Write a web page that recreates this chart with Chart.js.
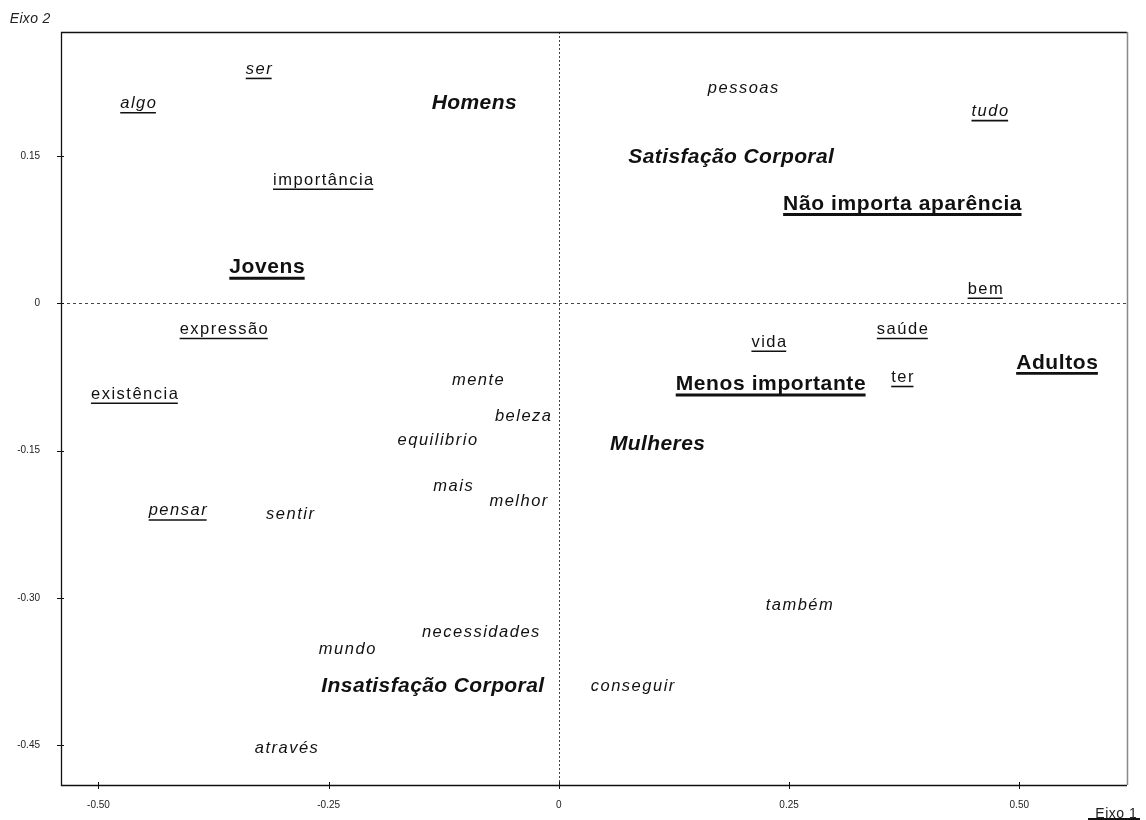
<!DOCTYPE html>
<html>
<head>
<meta charset="utf-8">
<script src="https://cdn.jsdelivr.net/npm/chart.js@4/dist/chart.umd.min.js"></script>
<style>
html,body{margin:0;padding:0;background:#fff;}
#wrap{position:relative;width:1146px;height:820px;}
</style>
</head>
<body>
<div id="wrap"><canvas id="c" width="1146" height="820"></canvas></div>
<script>
// ---- data ----
const words = ["algo","ser","Homens","pessoas","tudo","Satisfação Corporal","importância","Não importa aparência","Jovens","bem","expressão","saúde","vida","Adultos","Menos importante","ter","existência","mente","beleza","equilibrio","Mulheres","mais","melhor","pensar","sentir","também","necessidades","mundo","Insatisfação Corporal","conseguir","através"];
const axis1 = [-0.457,-0.326,-0.092,0.200,0.468,0.187,-0.256,0.373,-0.317,0.463,-0.364,0.373,0.228,0.541,0.230,0.373,-0.461,-0.088,-0.039,-0.132,0.107,-0.115,-0.044,-0.414,-0.292,0.261,-0.085,-0.230,-0.137,0.080,-0.296];
const axis2 = [0.204,0.239,0.205,0.220,0.196,0.150,0.126,0.102,0.037,0.015,-0.026,-0.026,-0.039,-0.060,-0.082,-0.075,-0.092,-0.078,-0.115,-0.139,-0.143,-0.186,-0.201,-0.211,-0.215,-0.307,-0.335,-0.352,-0.390,-0.390,-0.453];
const xTicks = [-0.50,-0.25,0,0.25,0.50];
const xTickLabels = ["-0.50","-0.25","0","0.25","0.50"];
const yTicks = [0.15,0,-0.15,-0.30,-0.45];
const yTickLabels = ["0.15","0","-0.15","-0.30","-0.45"];

// ---- styles (kept apart from the data) ----
// i = italic, iu = italic underlined, u = underlined, bi = bold italic, bu = bold underlined
const labelStyles = ["iu","iu","bi","i","iu","bi","u","bu","bu","u","u","u","u","bu","bu","u","u","i","i","i","bi","i","i","iu","i","i","i","i","bi","i","i"];
const FONT = '"Liberation Sans", Arial, sans-serif';
const styleDefs = {
  i:  {font:'italic 16.5px '+FONT, sp:1.5, ul:false, size:16.5},
  iu: {font:'italic 16.5px '+FONT, sp:1.5, ul:true, size:16.5, ulw:1.6, ulo:4.5},
  u:  {font:'16.5px '+FONT, sp:1.5, ul:true, size:16.5, ulw:1.6, ulo:4.5},
  bi: {font:'italic bold 21px '+FONT, sp:0.4, ul:false, size:21},
  bu: {font:'bold 21px '+FONT, sp:0.6, ul:true, size:21, ulw:2.8, ulo:4.8}
};

const points = axis1.map((x,i)=>({x:x, y:axis2[i]}));

function drawSpaced(ctx, text, cx, baseY, st){
  ctx.font = st.font;
  let w;
  if ('letterSpacing' in ctx){
    ctx.letterSpacing = st.sp + 'px';
    w = ctx.measureText(text).width - st.sp;
    ctx.textAlign = 'left';
    ctx.fillText(text, cx - w/2, baseY);
    ctx.letterSpacing = '0px';
  } else {
    const ws = [...text].map(ch=>ctx.measureText(ch).width);
    w = ws.reduce((a,b)=>a+b,0) + st.sp*(ws.length-1);
    let xx = cx - w/2;
    ctx.textAlign='left';
    [...text].forEach((ch,k)=>{ctx.fillText(ch,xx,baseY); xx += ws[k]+st.sp;});
  }
  return w;
}

const wordPlugin = {
  id:'words',
  afterDatasetsDraw(chart){
    const ctx = chart.ctx;
    const meta = chart.getDatasetMeta(0);
    ctx.save();
    ctx.fillStyle = '#111';
    ctx.strokeStyle = '#111';
    ctx.textBaseline = 'alphabetic';
    meta.data.forEach((pt,i)=>{
      const st = styleDefs[labelStyles[i]];
      const baseY = pt.y + st.size*0.3;
      const w = drawSpaced(ctx, words[i], pt.x, baseY, st);
      if (st.ul){
        ctx.lineWidth = st.ulw;
        const uy = baseY + st.ulo;
        ctx.beginPath();
        ctx.moveTo(pt.x - w/2, uy);
        ctx.lineTo(pt.x + w/2, uy);
        ctx.stroke();
      }
    });
    ctx.restore();
  }
};

const framePlugin = {
  id:'frame',
  beforeDatasetsDraw(chart){
    const {ctx, chartArea:a, scales} = chart;
    ctx.save();
    // dashed zero lines
    ctx.strokeStyle = '#444';
    ctx.lineWidth = 1;
    ctx.setLineDash([3,3]);
    const y0 = Math.round(scales.y.getPixelForValue(0))+0.5;
    ctx.beginPath(); ctx.moveTo(a.left, y0); ctx.lineTo(a.right, y0); ctx.stroke();
    ctx.setLineDash([2,2]);
    const x0 = Math.round(scales.x.getPixelForValue(0))+0.5;
    ctx.beginPath(); ctx.moveTo(x0, a.top); ctx.lineTo(x0, a.bottom); ctx.stroke();
    ctx.setLineDash([]);
    // frame
    ctx.strokeStyle = '#111';
    ctx.lineWidth = 1.3;
    ctx.beginPath();
    ctx.moveTo(a.right, a.top+0.5); ctx.lineTo(a.left+0.5, a.top+0.5); ctx.lineTo(a.left+0.5, a.bottom+0.5); ctx.lineTo(a.right, a.bottom+0.5);
    ctx.stroke();
    ctx.strokeStyle = '#888';
    ctx.lineWidth = 1.5;
    ctx.beginPath(); ctx.moveTo(a.right+0.5, a.top); ctx.lineTo(a.right+0.5, a.bottom); ctx.stroke();
    // crossing tick marks
    ctx.strokeStyle = '#111';
    ctx.lineWidth = 1;
    xTicks.forEach(v=>{
      const px = Math.round(scales.x.getPixelForValue(v))+0.5;
      ctx.beginPath(); ctx.moveTo(px, a.bottom-3); ctx.lineTo(px, a.bottom+4); ctx.stroke();
    });
    yTicks.forEach(v=>{
      const py = Math.round(scales.y.getPixelForValue(v))+0.5;
      ctx.beginPath(); ctx.moveTo(a.left-4, py); ctx.lineTo(a.left+3, py); ctx.stroke();
    });
    // axis titles
    ctx.fillStyle = '#222';
    ctx.textBaseline = 'alphabetic';
    drawSpaced(ctx, 'Eixo 2', 30, 22.5, {font:'italic 14px '+FONT, sp:0.3});
    drawSpaced(ctx, 'Eixo 1', 1116, 818, {font:'14px '+FONT, sp:0.5});
    ctx.lineWidth = 2;
    ctx.beginPath(); ctx.moveTo(1088, 819); ctx.lineTo(1140, 819); ctx.stroke();
    ctx.restore();
  }
};

new Chart(document.getElementById('c'), {
  type:'scatter',
  data:{datasets:[{data:points, pointRadius:0, pointHoverRadius:0, showLine:false}]},
  options:{
    responsive:false,
    animation:false,
    events:[],
    layout:{padding:{top:32,right:19,left:0,bottom:0}},
    plugins:{legend:{display:false}, tooltip:{enabled:false}},
    scales:{
      x:{
        type:'linear', min:-0.5407, max:0.617,
        afterBuildTicks(s){ s.ticks = xTicks.map(v=>({value:v})); },
        afterFit(s){ s.height = 35; },
        ticks:{callback:(v,i)=>xTickLabels[i], font:{family:FONT,size:10}, color:'#222', padding:6, maxRotation:0, autoSkip:false},
        grid:{display:false},
        border:{display:false}
      },
      y:{
        type:'linear', min:-0.4908, max:0.2767,
        afterBuildTicks(s){ s.ticks = yTicks.map(v=>({value:v})); },
        afterFit(s){ s.width = 61; },
        ticks:{callback:(v,i)=>yTickLabels[i], font:{family:FONT,size:10}, color:'#222', padding:13, autoSkip:false},
        grid:{display:false},
        border:{display:false}
      }
    }
  },
  plugins:[framePlugin, wordPlugin]
});
</script>
</body>
</html>
